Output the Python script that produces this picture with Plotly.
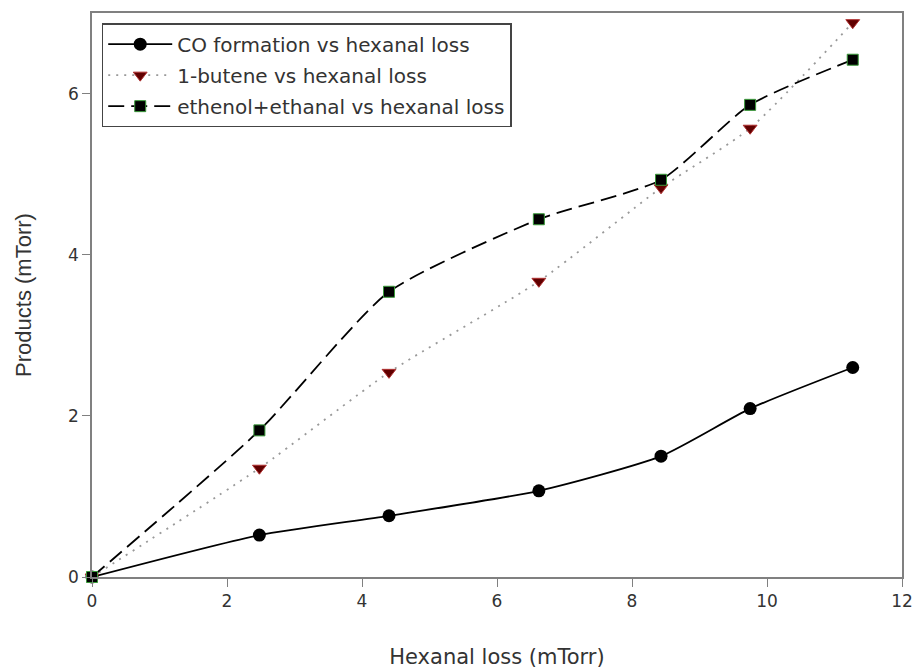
import plotly.graph_objects as go

x_vals = [0, 2.48, 4.4, 6.62, 8.43, 9.75, 11.27]
co_vals = [0, 0.52, 0.76, 1.07, 1.50, 2.09, 2.60]
butene_vals = [0, 1.35, 2.54, 3.67, 4.83, 5.57, 6.88]
ethenol_vals = [0, 1.82, 3.54, 4.44, 4.93, 5.86, 6.42]

names = ["CO formation vs hexanal loss", "1-butene vs hexanal loss",
         "ethenol+ethanal vs hexanal loss"]

fig = go.Figure()
fig.add_trace(go.Scatter(
    x=x_vals, y=co_vals, name=names[0], mode="lines+markers", legendgroup="a",
    cliponaxis=False,
    line=dict(color="black", width=1.8, shape="spline", smoothing=0.6),
    marker=dict(symbol="circle", size=13, color="black")))
fig.add_trace(go.Scatter(
    x=x_vals, y=butene_vals, name=names[1], mode="lines+markers", legendgroup="b",
    cliponaxis=False,
    line=dict(color="#999999", width=1.8, dash="2px,6px", shape="spline", smoothing=0.6),
    marker=dict(symbol="triangle-down", size=12, color="#600000",
                line=dict(color="#b03030", width=1))))
fig.add_trace(go.Scatter(
    x=x_vals, y=ethenol_vals, name=names[2], mode="lines+markers", legendgroup="c",
    cliponaxis=False,
    line=dict(color="black", width=1.8, dash="16px,7px", shape="spline", smoothing=0.6),
    marker=dict(symbol="square", size=11, color="black",
                line=dict(color="#3a9a3a", width=1))))

fig.update_layout(
    width=912, height=671,
    margin=dict(l=92, r=10, t=13, b=94),
    paper_bgcolor="white", plot_bgcolor="white",
    font=dict(family="DejaVu Sans, sans-serif", size=18, color="#333333"),
    showlegend=True,
    legend=dict(x=0.012, y=0.982, xanchor="left", yanchor="top",
                bordercolor="#444444", borderwidth=1.5, bgcolor="white",
                font=dict(family="DejaVu Sans, sans-serif", size=20, color="#333333"),
                itemwidth=64, tracegroupgap=2),
    xaxis=dict(range=[0, 12], tickvals=[0, 2, 4, 6, 8, 10, 12], automargin=False,
               ticklabeloverflow="allow",
               ticks="outside", ticklen=8, tickcolor="#808080",
               showline=True, linecolor="#808080", linewidth=1.5, mirror=True,
               showgrid=False, zeroline=False,
               tickfont=dict(family="DejaVu Sans, sans-serif", size=17, color="#333333"),
               title=dict(text="Hexanal loss (mTorr)",
                          font=dict(family="DejaVu Sans, sans-serif", size=21, color="#333333"),
                          standoff=39)),
    yaxis=dict(range=[0, 7], tickvals=[0, 2, 4, 6], automargin=False,
               ticklabeloverflow="allow",
               ticks="outside", ticklen=8, tickcolor="#808080",
               showline=True, linecolor="#808080", linewidth=1.5, mirror=True,
               showgrid=False, zeroline=False,
               tickfont=dict(family="DejaVu Sans, sans-serif", size=17, color="#333333"),
               title=dict(text="Products (mTorr)",
                          font=dict(family="Liberation Sans, Arial, sans-serif", size=22, color="#333333"),
                          standoff=30)),
)

fig.write_html("out.html")
